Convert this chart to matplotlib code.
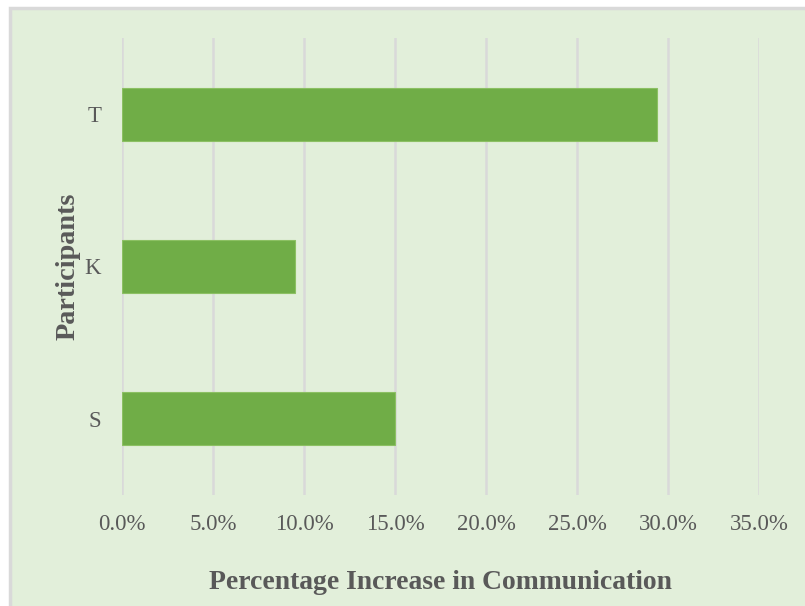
import matplotlib.pyplot as plt
from matplotlib.patches import Rectangle
from matplotlib.ticker import PercentFormatter

participants = ["S", "K", "T"]
increase = [15.0, 9.5, 29.4]  # percent
xticks = [0, 5, 10, 15, 20, 25, 30, 35]

bg = "#E2EFDA"
bar_color = "#70AD47"
grid_color = "#D9D9D9"
text_color = "#595959"

plt.rcParams["font.family"] = ["Liberation Serif", "DejaVu Serif"]

W, H = 805, 606
fig = plt.figure(figsize=(W / 100, H / 100), dpi=100)
fig.patch.set_facecolor("white")

# chart area with its thin grey border (kept behind the axes)
fig.patches.append(Rectangle((10 / W, -0.1), 1.2, 1 - 8 / H + 0.1,
                             transform=fig.transFigure, facecolor=bg,
                             edgecolor=grid_color, linewidth=2.5, zorder=-10))

ax = fig.add_axes([122 / W, 1 - 495 / H, (759 - 122) / W, (495 - 38) / H])
ax.patch.set_alpha(0)

ax.barh(participants, increase, height=0.35, color=bar_color,
        edgecolor="#8CC063", linewidth=0.8, zorder=3)

ax.set_xlim(0, 35)
ax.set_ylim(-0.5, 2.5)
ax.set_xticks(xticks)
ax.xaxis.set_major_formatter(PercentFormatter(decimals=1))
ax.grid(axis="x", color=grid_color, linewidth=1.8, zorder=0)
ax.grid(axis="y", visible=False)
ax.set_axisbelow(True)
for s in ax.spines.values():
    s.set_visible(False)
ax.tick_params(length=0, labelsize=16.5, labelcolor=text_color)
ax.tick_params(axis="x", pad=14)
ax.tick_params(axis="y", pad=15)

ax.set_xlabel("Percentage Increase in Communication", fontsize=19.9,
              fontweight="bold", color=text_color, labelpad=25)
ax.set_ylabel("Participants", fontsize=20.3, fontweight="bold",
              color=text_color, labelpad=3)

fig.savefig("out.png", dpi=100, facecolor=fig.get_facecolor())
